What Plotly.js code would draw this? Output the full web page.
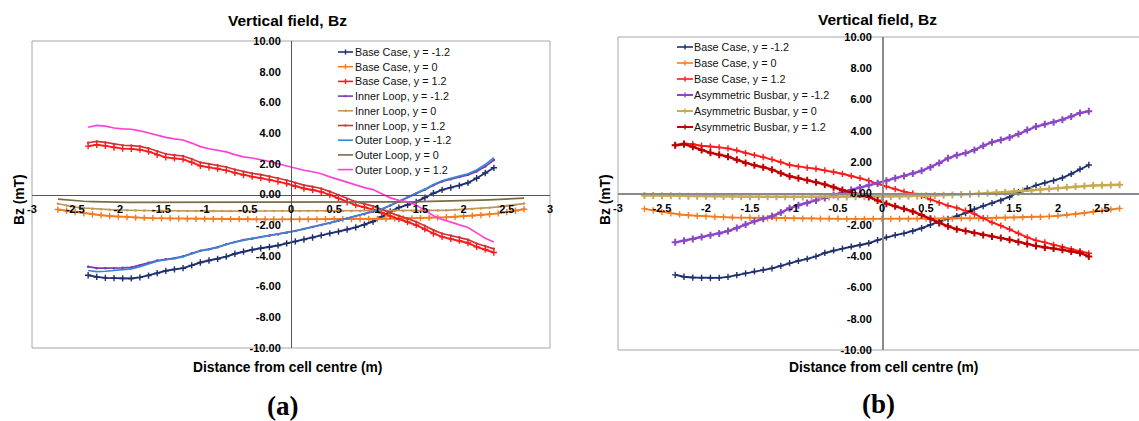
<!DOCTYPE html>
<html><head><meta charset="utf-8">
<script src="https://cdn.plot.ly/plotly-3.0.1.min.js"></script>
<style>html,body{margin:0;padding:0;background:#fff}#chart{width:1139px;height:421px}</style>
</head><body><div id="chart"></div>
<script>
// ---------- DATA ----------
const X_MAIN = [-2.35,-2.25,-2.15,-2.05,-1.95,-1.85,-1.75,-1.65,-1.55,-1.45,-1.35,-1.25,-1.15,-1.05,-0.95,-0.85,-0.75,-0.65,-0.55,-0.45,-0.35,-0.25,-0.15,-0.05,0.05,0.15,0.25,0.35,0.45,0.55,0.65,0.75,0.85,0.95,1.05,1.15,1.25,1.35,1.45,1.55,1.65,1.75,1.85,1.95,2.05,2.15,2.25,2.35];
const X_MID = [-2.7,-2.6,-2.5,-2.4,-2.3,-2.2,-2.1,-2.0,-1.9,-1.8,-1.7,-1.6,-1.5,-1.4,-1.3,-1.2,-1.1,-1.0,-0.9,-0.8,-0.7,-0.6,-0.5,-0.4,-0.3,-0.2,-0.1,0,0.1,0.2,0.3,0.4,0.5,0.6,0.7,0.8,0.9,1.0,1.1,1.2,1.3,1.4,1.5,1.6,1.7,1.8,1.9,2.0,2.1,2.2,2.3,2.4,2.5,2.6,2.7];

// panel (a)
const A_BASE_M12 = [-5.26,-5.37,-5.43,-5.45,-5.47,-5.47,-5.40,-5.28,-5.12,-4.97,-4.88,-4.80,-4.62,-4.43,-4.30,-4.20,-4.05,-3.86,-3.72,-3.60,-3.50,-3.42,-3.32,-3.18,-3.06,-2.93,-2.80,-2.66,-2.53,-2.42,-2.28,-2.14,-1.97,-1.76,-1.45,-1.10,-0.85,-0.68,-0.48,-0.20,0.08,0.30,0.45,0.58,0.76,1.06,1.40,1.74];
const A_BASE_0 = [-0.98,-1.06,-1.14,-1.22,-1.29,-1.35,-1.40,-1.44,-1.47,-1.50,-1.52,-1.54,-1.55,-1.56,-1.57,-1.58,-1.59,-1.59,-1.60,-1.60,-1.61,-1.61,-1.61,-1.62,-1.62,-1.62,-1.62,-1.62,-1.62,-1.62,-1.62,-1.61,-1.61,-1.61,-1.60,-1.60,-1.59,-1.59,-1.58,-1.57,-1.56,-1.55,-1.54,-1.52,-1.50,-1.48,-1.45,-1.42,-1.38,-1.34,-1.29,-1.23,-1.15,-1.06,-0.96];
const A_BASE_P12 = [3.15,3.24,3.17,3.06,2.99,2.97,2.92,2.79,2.59,2.42,2.35,2.29,2.09,1.87,1.77,1.69,1.57,1.41,1.27,1.16,1.07,0.97,0.84,0.71,0.54,0.39,0.29,0.17,-0.03,-0.25,-0.51,-0.69,-0.83,-0.98,-1.19,-1.41,-1.61,-1.79,-1.99,-2.26,-2.54,-2.76,-2.89,-3.01,-3.16,-3.41,-3.58,-3.78];
const A_INNER_M12 = [-4.70,-4.80,-4.80,-4.80,-4.78,-4.75,-4.62,-4.45,-4.30,-4.22,-4.15,-4.02,-3.83,-3.66,-3.56,-3.43,-3.24,-3.09,-2.96,-2.87,-2.77,-2.69,-2.61,-2.49,-2.37,-2.24,-2.11,-1.99,-1.87,-1.71,-1.55,-1.41,-1.28,-1.13,-0.97,-0.72,-0.47,-0.17,0.07,0.31,0.60,0.85,1.00,1.14,1.28,1.50,1.82,2.25];
const A_INNER_0 = [-0.60,-0.72,-0.82,-0.88,-0.93,-0.96,-0.99,-1.01,-1.03,-1.04,-1.05,-1.06,-1.06,-1.07,-1.07,-1.07,-1.08,-1.08,-1.08,-1.08,-1.08,-1.08,-1.08,-1.08,-1.08,-1.08,-1.08,-1.08,-1.08,-1.08,-1.08,-1.08,-1.08,-1.08,-1.08,-1.08,-1.08,-1.08,-1.07,-1.07,-1.07,-1.06,-1.06,-1.05,-1.04,-1.03,-1.00,-0.98,-0.95,-0.91,-0.86,-0.80,-0.73,-0.66,-0.59];
const A_INNER_P12 = [3.37,3.46,3.39,3.28,3.21,3.19,3.14,3.01,2.81,2.64,2.57,2.51,2.31,2.09,1.99,1.91,1.79,1.63,1.49,1.38,1.29,1.19,1.06,0.93,0.76,0.61,0.51,0.39,0.19,-0.03,-0.29,-0.47,-0.61,-0.76,-0.97,-1.19,-1.39,-1.57,-1.77,-2.04,-2.32,-2.54,-2.67,-2.79,-2.94,-3.19,-3.36,-3.54];
const A_OUTER_M12 = [-4.95,-5.03,-5.00,-4.95,-4.90,-4.85,-4.70,-4.50,-4.35,-4.25,-4.18,-4.05,-3.85,-3.68,-3.58,-3.45,-3.25,-3.10,-2.97,-2.88,-2.78,-2.70,-2.62,-2.50,-2.38,-2.25,-2.12,-2.00,-1.88,-1.72,-1.55,-1.40,-1.27,-1.12,-0.95,-0.70,-0.45,-0.15,0.10,0.35,0.65,0.90,1.05,1.20,1.35,1.60,1.95,2.40];
const A_OUTER_0 = [-0.30,-0.36,-0.41,-0.44,-0.46,-0.48,-0.49,-0.50,-0.51,-0.51,-0.51,-0.52,-0.52,-0.52,-0.52,-0.52,-0.52,-0.52,-0.52,-0.52,-0.52,-0.52,-0.52,-0.52,-0.52,-0.52,-0.52,-0.52,-0.52,-0.52,-0.52,-0.52,-0.52,-0.52,-0.52,-0.51,-0.51,-0.51,-0.50,-0.50,-0.49,-0.48,-0.47,-0.46,-0.45,-0.45,-0.43,-0.41,-0.39,-0.37,-0.35,-0.32,-0.29,-0.27,-0.24];
const A_OUTER_P12 = [4.38,4.50,4.45,4.33,4.28,4.25,4.15,4.00,3.85,3.72,3.62,3.55,3.35,3.12,2.98,2.90,2.78,2.60,2.45,2.38,2.28,2.15,2.00,1.85,1.70,1.58,1.48,1.35,1.15,0.97,0.82,0.62,0.45,0.32,0.05,-0.22,-0.38,-0.47,-0.68,-1.05,-1.38,-1.62,-1.80,-1.95,-2.15,-2.50,-2.85,-3.10];

// panel (b)
const B_BASE_M12 = [-5.20,-5.32,-5.37,-5.39,-5.40,-5.39,-5.33,-5.22,-5.10,-4.98,-4.88,-4.78,-4.62,-4.45,-4.30,-4.18,-4.02,-3.80,-3.64,-3.52,-3.40,-3.30,-3.18,-2.98,-2.80,-2.66,-2.55,-2.40,-2.22,-2.00,-1.78,-1.62,-1.45,-1.25,-1.00,-0.80,-0.62,-0.45,-0.22,0.08,0.32,0.52,0.68,0.82,1.00,1.25,1.55,1.82];
const B_BASE_0 = [-0.98,-1.08,-1.18,-1.27,-1.34,-1.39,-1.43,-1.46,-1.49,-1.51,-1.53,-1.54,-1.55,-1.56,-1.57,-1.58,-1.59,-1.59,-1.60,-1.60,-1.61,-1.61,-1.61,-1.62,-1.62,-1.62,-1.62,-1.62,-1.62,-1.62,-1.62,-1.61,-1.61,-1.61,-1.60,-1.60,-1.59,-1.59,-1.58,-1.57,-1.56,-1.55,-1.54,-1.53,-1.51,-1.49,-1.46,-1.42,-1.37,-1.32,-1.25,-1.17,-1.09,-1.02,-0.95];
const B_BASE_P12 = [3.08,3.20,3.15,3.05,3.00,2.95,2.88,2.75,2.58,2.45,2.32,2.18,2.00,1.82,1.72,1.65,1.58,1.48,1.38,1.26,1.12,0.98,0.82,0.62,0.45,0.28,0.12,0.00,-0.15,-0.38,-0.60,-0.78,-0.92,-1.10,-1.30,-1.58,-1.85,-2.05,-2.28,-2.55,-2.80,-3.00,-3.12,-3.28,-3.42,-3.55,-3.68,-3.82];
const B_ASYM_M12 = [-3.12,-3.02,-2.90,-2.78,-2.66,-2.55,-2.40,-2.20,-1.98,-1.78,-1.62,-1.45,-1.22,-0.95,-0.75,-0.60,-0.45,-0.28,-0.10,0.08,0.22,0.38,0.52,0.66,0.82,0.98,1.12,1.28,1.45,1.68,1.95,2.25,2.45,2.58,2.78,3.05,3.28,3.42,3.58,3.80,4.05,4.28,4.42,4.55,4.72,4.92,5.15,5.25];
const B_ASYM_0 = [-0.12,-0.13,-0.14,-0.15,-0.16,-0.17,-0.17,-0.18,-0.18,-0.19,-0.19,-0.20,-0.20,-0.20,-0.21,-0.21,-0.21,-0.22,-0.22,-0.22,-0.22,-0.22,-0.22,-0.22,-0.21,-0.21,-0.20,-0.20,-0.19,-0.18,-0.17,-0.16,-0.15,-0.13,-0.11,-0.09,-0.07,-0.04,-0.01,0.02,0.05,0.08,0.12,0.16,0.20,0.25,0.30,0.35,0.40,0.44,0.48,0.51,0.53,0.55,0.56];
const B_ASYM_P12 = [3.08,3.15,2.98,2.78,2.60,2.48,2.35,2.15,1.95,1.80,1.68,1.52,1.30,1.10,0.98,0.85,0.72,0.58,0.40,0.22,0.05,-0.05,-0.22,-0.45,-0.65,-0.82,-0.98,-1.15,-1.38,-1.62,-1.88,-2.10,-2.28,-2.40,-2.52,-2.65,-2.75,-2.85,-2.95,-3.10,-3.22,-3.35,-3.45,-3.52,-3.60,-3.70,-3.80,-4.02];

// tick labels
const X_TICK_VALS = [-3,-2.5,-2,-1.5,-1,-0.5,0,0.5,1,1.5,2,2.5,3];
const X_TICK_TEXT = ['-3','-2.5','-2','-1.5','-1','-0.5','0','0.5','1','1.5','2','2.5','3'];
const Y_TICK_VALS = [-10,-8,-6,-4,-2,0,2,4,6,8,10];
const Y_TICK_TEXT = ['-10.00','-8.00','-6.00','-4.00','-2.00','0.00','2.00','4.00','6.00','8.00','10.00'];

const PANEL_TITLE = 'Vertical field, Bz';
const X_TITLE = 'Distance from cell centre (m)';
const Y_TITLE = 'Bz (mT)';

// ---------- STYLE / LAYOUT ----------
const W = 1139, H = 421;
const PX = v => v / W;
const PY = v => 1 - v / H;
const SANS = 'Liberation Sans, Arial, sans-serif';

const C = {
  navy:'#1F2F6E', orange:'#F47B20', red:'#FF1A1A', purple:'#7A3AB0', tan:'#C49655',
  dred:'#D03438', blue:'#3A86CF', olive:'#7C6C46', pink:'#FF40D6',
  apurple:'#8A48C6', akhaki:'#C8A955', adred:'#C00000'
};

const seriesA = [
  {name:'Base Case, y = -1.2', x:X_MAIN, y:A_BASE_M12, color:C.navy, st:'plus'},
  {name:'Base Case, y = 0', x:X_MID, y:A_BASE_0, color:C.orange, st:'plus'},
  {name:'Base Case, y = 1.2', x:X_MAIN, y:A_BASE_P12, color:C.red, st:'plus'},
  {name:'Inner Loop, y = -1.2', x:X_MAIN, y:A_INNER_M12, color:C.purple, st:'dot'},
  {name:'Inner Loop, y = 0', x:X_MID, y:A_INNER_0, color:C.tan, st:'dot'},
  {name:'Inner Loop, y = 1.2', x:X_MAIN, y:A_INNER_P12, color:C.dred, st:'dot'},
  {name:'Outer Loop, y = -1.2', x:X_MAIN, y:A_OUTER_M12, color:C.blue, st:'line'},
  {name:'Outer Loop, y = 0', x:X_MID, y:A_OUTER_0, color:C.olive, st:'line'},
  {name:'Outer Loop, y = 1.2', x:X_MAIN, y:A_OUTER_P12, color:C.pink, st:'line'}
];
const seriesB = [
  {name:'Base Case, y = -1.2', x:X_MAIN, y:B_BASE_M12, color:C.navy, st:'plus'},
  {name:'Base Case, y = 0', x:X_MID, y:B_BASE_0, color:C.orange, st:'plus'},
  {name:'Base Case, y = 1.2', x:X_MAIN, y:B_BASE_P12, color:C.red, st:'plus'},
  {name:'Asymmetric Busbar, y = -1.2', x:X_MAIN, y:B_ASYM_M12, color:C.apurple, st:'plusb'},
  {name:'Asymmetric Busbar, y = 0', x:X_MID, y:B_ASYM_0, color:C.akhaki, st:'plusb'},
  {name:'Asymmetric Busbar, y = 1.2', x:X_MAIN, y:B_ASYM_P12, color:C.adred, st:'plusb'}
];

function mkTrace(s, xa, ya) {
  const t = {type:'scatter', name:s.name, x:s.x, y:s.y, xaxis:xa, yaxis:ya,
    line:{color:s.color, width:1.7}, showlegend:false, hoverinfo:'skip'};
  if (s.st === 'plus') { t.mode='lines+markers'; t.marker={symbol:'cross-thin', size:4.5, line:{color:s.color, width:1.4}}; t.line.width=1.9; }
  else if (s.st === 'plusb') { t.mode='lines+markers'; t.marker={symbol:'cross-thin', size:5, line:{color:s.color, width:2}}; t.line.width=2.4; }
  else if (s.st === 'dot') { t.mode='lines+markers'; t.marker={symbol:'circle', size:2.5, color:s.color}; }
  else { t.mode='lines'; }
  return t;
}
const traces = seriesA.map(s => mkTrace(s,'x','y')).concat(seriesB.map(s => mkTrace(s,'x2','y2')));

const tickFont = {family:SANS, size:11, color:'#000', weight:'bold'};
function xAx(domain, range, posY, lc) {
  return {domain, range, anchor:'free', position:posY, tickvals:X_TICK_VALS, ticktext:X_TICK_TEXT,
    tickfont:tickFont, showgrid:false, zeroline:false, showline:true, linecolor:lc, linewidth:1,
    ticks:'', ticklabelstandoff:4, fixedrange:true};
}
function yAx(domain, posX, lc) {
  return {domain, range:[-10,10], anchor:'free', position:posX, tickvals:Y_TICK_VALS, ticktext:Y_TICK_TEXT,
    tickfont:tickFont, showgrid:false, zeroline:false, showline:true, linecolor:lc, linewidth:1,
    ticks:'', ticklabelstandoff:8, fixedrange:true};
}

// panel geometry (pixels)
const A = {l:32, r:550, t:41, b:348, x0:291, y0:195};
const B = {l:618, r:1139, t:37, b:350, x0:882, y0:193};

const layout = {
  width:W, height:H, margin:{l:0,r:0,t:0,b:0,pad:0},
  paper_bgcolor:'#fff', plot_bgcolor:'#fff', showlegend:false,
  xaxis: xAx([PX(A.l),PX(A.r)], [-3,3], PY(A.y0), '#555'),
  yaxis: yAx([PY(A.b),PY(A.t)], PX(A.x0), '#555'),
  xaxis2: xAx([PX(B.l),1], [-3, (B.r-B.l)/88 - 3], PY(B.y0), '#8a8a8a'),
  yaxis2: yAx([PY(B.b),PY(B.t)], PX(B.x0), '#8a8a8a'),
  shapes:[], annotations:[]
};
layout.xaxis2.linewidth = 1.5; layout.yaxis2.linewidth = 1.5;

// frames
const frame = '#A6A6A6';
layout.shapes.push({type:'rect', xref:'x domain', yref:'y domain', x0:0, x1:1, y0:0, y1:1, line:{color:frame, width:1}, layer:'below'});
[[0,0,0,1],[0,1,1,1],[0,0,1,0]].forEach(([a,b,c,d]) =>
  layout.shapes.push({type:'line', xref:'x2 domain', yref:'y2 domain', x0:a, y0:b, x1:c, y1:d, line:{color:frame, width:1}, layer:'below'}));

// text annotations
function ann(text, X, Y, size, extra) {
  return Object.assign({text, x:PX(X), y:PY(Y), xref:'paper', yref:'paper', showarrow:false,
    xanchor:'center', yanchor:'middle', font:{family:SANS, size, color:'#000', weight:'bold'}}, extra||{});
}
layout.annotations.push(ann(PANEL_TITLE, 287, 21, 15.5));
layout.annotations.push(ann(PANEL_TITLE, 877, 19, 15.5));
layout.annotations.push(ann(X_TITLE, 287, 367, 13.8));
layout.annotations.push(ann(X_TITLE, 883, 367, 13.8));
layout.annotations.push(ann(Y_TITLE, 19, 200, 13.8, {textangle:-90}));
layout.annotations.push(ann(Y_TITLE, 605, 200, 13.8, {textangle:-90}));
layout.annotations.push(ann('(a)', 282, 406, 27, {font:{family:'Liberation Serif, Times New Roman, serif', size:27, color:'#000', weight:'bold'}}));
layout.annotations.push(ann('(b)', 878, 404, 27, {font:{family:'Liberation Serif, Times New Roman, serif', size:27, color:'#000', weight:'bold'}}));

// legends
function legend(series, lx0, lx1, tx, y0, dy) {
  series.forEach((s, i) => {
    const Y = y0 + dy * i;
    layout.shapes.push({type:'line', xref:'paper', yref:'paper', x0:PX(lx0), x1:PX(lx1), y0:PY(Y), y1:PY(Y),
      line:{color:s.color, width:s.st==='plusb'?2:1.6}});
    if (s.st === 'plus' || s.st === 'plusb' || s.st === 'dot') {
      const cx = (lx0 + lx1) / 2, h = s.st === 'dot' ? 1.2 : 2.6;
      layout.shapes.push({type:'line', xref:'paper', yref:'paper', x0:PX(cx), x1:PX(cx), y0:PY(Y-h), y1:PY(Y+h),
        line:{color:s.color, width:1.4}});
    }
    layout.annotations.push({text:s.name, x:PX(tx), y:PY(Y), xref:'paper', yref:'paper', showarrow:false,
      xanchor:'left', yanchor:'middle', font:{family:SANS, size:10.8, color:'#111'}});
  });
}
legend(seriesA, 338, 353, 353, 52, 14.7);
legend(seriesB, 677, 693, 692, 47, 16);

Plotly.newPlot('chart', traces, layout, {staticPlot:true, displayModeBar:false});
</script>
</body></html>
